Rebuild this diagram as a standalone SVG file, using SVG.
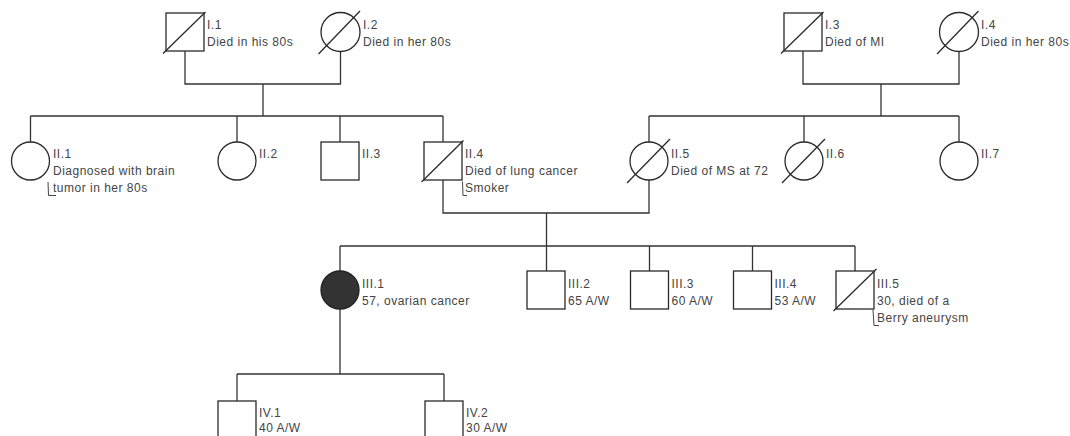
<svg xmlns="http://www.w3.org/2000/svg" width="1070" height="436" viewBox="0 0 1070 436">
<style>
.sym{fill:#fff;stroke:#2a2a2a;stroke-width:1.3}
.aff{fill:#333;stroke:#222;stroke-width:1.3}
.sl{stroke:#2a2a2a;stroke-width:1.3;fill:none}
.ln{stroke:#333;stroke-width:1.3;fill:none}
.br{stroke:#444;stroke-width:1;fill:none}
text{font-family:"Liberation Sans",Arial,sans-serif;font-size:12px;letter-spacing:0.5px;fill:#444}
</style>
<rect width="1070" height="436" fill="#fff"/>
<g id="connectors">
<path class="ln" d="M185,51 V84 H340.5 V51.5"/>
<path class="ln" d="M263,84 V116"/>
<path class="ln" d="M30.5,116 H443 M30.5,116 V142 M237,116 V142 M340,116 V142 M443,116 V142"/>
<path class="ln" d="M803,51 V84 H959 V51.5"/>
<path class="ln" d="M881,84 V116"/>
<path class="ln" d="M649,116 H959 M649,116 V142 M804,116 V142 M959,116 V142"/>
<path class="ln" d="M443,180 V213 H649 V180"/>
<path class="ln" d="M546.5,213 V271"/>
<path class="ln" d="M340,246 H855 M340,246 V271 M649.5,246 V271 M752.5,246 V271 M855,246 V271"/>
<path class="ln" d="M340,309 V374 M237,374 H444 M237,374 V401 M444,374 V401"/>
</g>
<g id="I.1">
<rect class="sym" x="166" y="13" width="38" height="38"/>
<path class="sl" d="M163,53.5 L205.5,12"/>
<text x="207" y="28.5">I.1</text><text x="207" y="46">Died in his 80s</text>
</g>
<g id="I.2">
<circle class="sym" cx="340.5" cy="32" r="19.5"/>
<path class="sl" d="M318.5,54 L360,11"/>
<text x="363" y="28.5">I.2</text><text x="363" y="46">Died in her 80s</text>
</g>
<g id="I.3">
<rect class="sym" x="784" y="13" width="38" height="38"/>
<path class="sl" d="M781,53.5 L823.5,12"/>
<text x="825" y="28.5">I.3</text><text x="825" y="46">Died of MI</text>
</g>
<g id="I.4">
<circle class="sym" cx="959" cy="32" r="19.5"/>
<path class="sl" d="M937,54 L978.5,11"/>
<text x="981" y="28.5">I.4</text><text x="981" y="46">Died in her 80s</text>
</g>
<g id="II.1">
<circle class="sym" cx="30.5" cy="161" r="19"/>
<text x="53" y="157.5">II.1</text><text x="53" y="174.5">Diagnosed with brain</text><text x="53" y="191.5">tumor in her 80s</text>
<path class="br" d="M48,182 L48.5,195.5 L56,195.5"/>
</g>
<g id="II.2">
<circle class="sym" cx="237" cy="161" r="19"/>
<text x="259" y="157.5">II.2</text>
</g>
<g id="II.3">
<rect class="sym" x="321" y="142" width="38" height="38"/>
<text x="362" y="157.5">II.3</text>
</g>
<g id="II.4">
<rect class="sym" x="424" y="142" width="38" height="38"/>
<path class="sl" d="M421.5,182 L463.5,140.5"/>
<text x="465" y="157.5">II.4</text><text x="465" y="174.5">Died of lung cancer</text><text x="465" y="191.5">Smoker</text>
<path class="br" d="M462.5,181.5 L463,195.5 L467,195.5"/>
</g>
<g id="II.5">
<circle class="sym" cx="649" cy="161" r="19"/>
<path class="sl" d="M627,183 L670,139"/>
<text x="671" y="157.5">II.5</text><text x="671" y="174.5">Died of MS at 72</text>
</g>
<g id="II.6">
<circle class="sym" cx="804" cy="161" r="19"/>
<path class="sl" d="M782,183 L825,139"/>
<text x="826" y="157.5">II.6</text>
</g>
<g id="II.7">
<circle class="sym" cx="959" cy="161" r="19"/>
<text x="981" y="157.5">II.7</text>
</g>
<g id="III.1">
<circle class="aff" cx="340" cy="290" r="19"/>
<text x="362" y="287.5">III.1</text><text x="362" y="304.5">57, ovarian cancer</text>
</g>
<g id="III.2">
<rect class="sym" x="527" y="271" width="38" height="38"/>
<text x="568" y="287.5">III.2</text><text x="568" y="304.5">65 A/W</text>
</g>
<g id="III.3">
<rect class="sym" x="630.5" y="271" width="38" height="38"/>
<text x="671.5" y="287.5">III.3</text><text x="671.5" y="304.5">60 A/W</text>
</g>
<g id="III.4">
<rect class="sym" x="733.5" y="271" width="38" height="38"/>
<text x="774.5" y="287.5">III.4</text><text x="774.5" y="304.5">53 A/W</text>
</g>
<g id="III.5">
<rect class="sym" x="836" y="271" width="38" height="38"/>
<path class="sl" d="M833.5,311 L876.5,269"/>
<text x="877" y="287.5">III.5</text><text x="877" y="304.5">30, died of a</text><text x="877" y="321.5">Berry aneurysm</text>
<path class="br" d="M873,310 L874,325.5 L879,325.5"/>
</g>
<g id="IV.1">
<rect class="sym" x="218" y="401" width="38" height="38"/>
<text x="259" y="416.5">IV.1</text><text x="259" y="432">40 A/W</text>
</g>
<g id="IV.2">
<rect class="sym" x="425" y="401" width="38" height="38"/>
<text x="466" y="416.5">IV.2</text><text x="466" y="432">30 A/W</text>
</g>
</svg>
